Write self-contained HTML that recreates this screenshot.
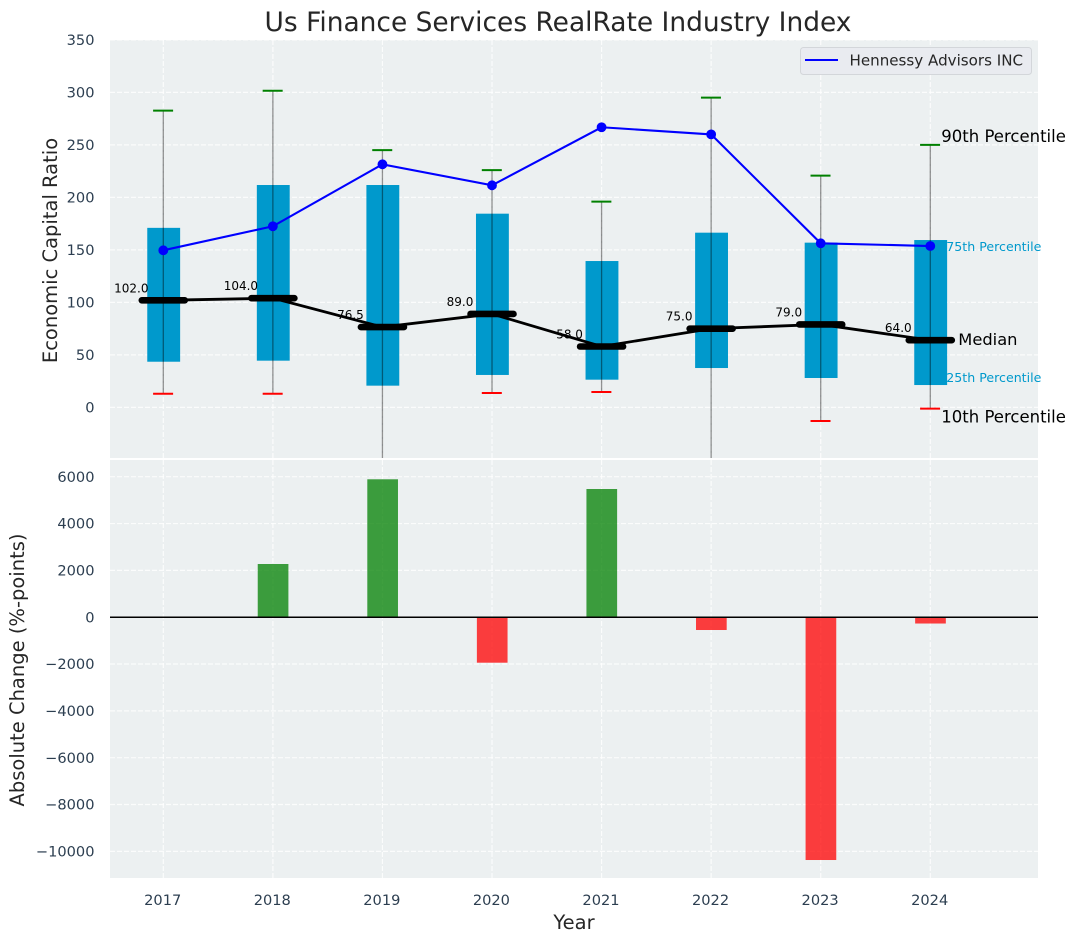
<!DOCTYPE html>
<html lang="en">
<head>
<meta charset="utf-8">
<title>Us Finance Services RealRate Industry Index</title>
<style>
  html, body { margin: 0; padding: 0; background: #ffffff; }
  #chart { display: block; width: 1076px; height: 942px; font-family: "DejaVu Sans", "Liberation Sans", sans-serif; }
</style>
</head>
<body>
<svg id="chart" xmlns="http://www.w3.org/2000/svg" width="1076" height="942" viewBox="0 0 1076 942">
  <defs>
    <clipPath id="top-clip"><rect x="110" y="40" width="928" height="418"></rect></clipPath>
    <clipPath id="bottom-clip"><rect x="110" y="460" width="928" height="418"></rect></clipPath>
  </defs>
  <rect x="0" y="0" width="1076" height="942" fill="#ffffff"></rect>
  <rect x="110" y="40" width="928" height="418" fill="#ecf0f1"></rect>
  <rect x="110" y="460" width="928" height="418" fill="#ecf0f1"></rect>
  <g id="top-grid"></g>
  <g id="bottom-grid"></g>
  <g id="top-marks" clip-path="url(#top-clip)"></g>
  <g id="bottom-marks" clip-path="url(#bottom-clip)"></g>
  <g id="axis-labels"></g>
  <g id="annotations"></g>

  <text x="558" y="31" text-anchor="middle" font-size="26.45px" fill="#262626">Us Finance Services RealRate Industry Index</text>
  <text transform="translate(57 250.5) rotate(-90)" text-anchor="middle" font-size="19.5px" fill="#262626">Economic Capital Ratio</text>
  <text transform="translate(24 670) rotate(-90)" text-anchor="middle" font-size="19.5px" fill="#262626">Absolute Change (%-points)</text>
  <text x="574" y="929" text-anchor="middle" font-size="19.5px" fill="#262626">Year</text>

  <g>
    <rect x="800.5" y="47.5" width="231" height="27" rx="3" ry="3" fill="#e9ebf0" stroke="#d3d6da" stroke-width="1"></rect>
    <line x1="805" y1="60" x2="838" y2="60" stroke="#0000ff" stroke-width="2"></line>
    <text x="849.5" y="65.5" font-size="15.1px" fill="#262626">Hennessy Advisors INC</text>
  </g>

  <script>
    // Chart data
    var years = [2017, 2018, 2019, 2020, 2021, 2022, 2023, 2024];
    var p90 = [282.6, 301.6, 245, 226, 196, 295, 220.7, 250];
    var p75 = [171, 211.8, 211.8, 184.5, 139.4, 166.4, 156.9, 159.4];
    var medians = [102, 104, 76.5, 89, 58, 75, 79, 64];
    var p25 = [43.5, 44.5, 20.7, 30.9, 26.4, 37.5, 28, 21.3];
    var p10 = [13, 13, -60, 13.7, 14.7, -60, -13, -1.2];
    var company = [149.6, 172.5, 231.5, 211.5, 266.8, 260, 156.3, 153.7];
    var absoluteChange = [0, 2272, 5890, -1943, 5475, -547, -10370, -270];
    var topTicks = [0, 50, 100, 150, 200, 250, 300, 350];
    var bottomTicks = [-10000, -8000, -6000, -4000, -2000, 0, 2000, 4000, 6000];

    var SVG_NS = 'http://www.w3.org/2000/svg';

    function xScale(year) { return 163.3 + (year - 2017) * 109.57; }
    function yTop(value) { return 407.4 - value * 1.05; }
    function yBottom(value) { return 617.2 - value * 0.023415; }

    function make(parentId, tag, attrs, text) {
      var el = document.createElementNS(SVG_NS, tag);
      Object.keys(attrs).forEach(function (k) { el.setAttribute(k, attrs[k]); });
      if (text !== undefined) { el.textContent = text; }
      document.getElementById(parentId).appendChild(el);
      return el;
    }

    function minusLabel(v) { return String(v).replace('-', '\u2212'); }

    var gridStyle = { stroke: '#ffffff', 'stroke-width': 1.2, 'stroke-dasharray': '5 2', 'stroke-opacity': 0.8 };
    function gridAttrs(x1, y1, x2, y2) {
      return { x1: x1, y1: y1, x2: x2, y2: y2, stroke: gridStyle.stroke, 'stroke-width': gridStyle['stroke-width'], 'stroke-dasharray': gridStyle['stroke-dasharray'], 'stroke-opacity': gridStyle['stroke-opacity'] };
    }

    topTicks.forEach(function (t) {
      var g = make('top-grid', 'line', gridAttrs(110, yTop(t), 1038, yTop(t)));
      
      
      var l = make('axis-labels', 'text', { x: 94.5, y: yTop(t) + 5.2, 'text-anchor': 'end', 'font-size': '14.6px', fill: '#2c3e50' }, minusLabel(t));
      
      
    });

    bottomTicks.forEach(function (t) {
      var g = make('bottom-grid', 'line', gridAttrs(110, yBottom(t), 1038, yBottom(t)));
      
      
      var l = make('axis-labels', 'text', { x: 94.5, y: yBottom(t) + 5.2, 'text-anchor': 'end', 'font-size': '14.6px', fill: '#2c3e50' }, minusLabel(t));
      
      
    });

    years.forEach(function (year) {
      var x = xScale(year);
      var g1 = make('top-grid', 'line', gridAttrs(x, 40, x, 458));
      
      
      var g2 = make('bottom-grid', 'line', gridAttrs(x, 460, x, 878));
      
      
      var l = make('axis-labels', 'text', { x: x - 0.6, y: 905, 'text-anchor': 'middle', 'font-size': '14.6px', fill: '#2c3e50' }, String(year));
      
      
    });

    // Interquartile boxes
    years.forEach(function (year, i) {
      var w = 0.3 * 109.57;
      var box = make('top-marks', 'rect', { x: xScale(year) - w / 2 + 0.4, y: yTop(p75[i]), width: w, height: yTop(p25[i]) - yTop(p75[i]), fill: '#0099cc' });
      
      
    });

    // Whiskers and caps
    years.forEach(function (year, i) {
      var x = xScale(year);
      var whisker = make('top-marks', 'line', { x1: x, y1: yTop(p90[i]), x2: x, y2: yTop(p10[i]), stroke: '#000000', 'stroke-opacity': 0.42, 'stroke-width': 1.3 });
      
      
      var capHigh = make('top-marks', 'line', { x1: x - 10.2, y1: yTop(p90[i]), x2: x + 9.8, y2: yTop(p90[i]), stroke: '#008000', 'stroke-width': 2 });
      
      
      var capLow = make('top-marks', 'line', { x1: x - 10.2, y1: yTop(p10[i]), x2: x + 9.8, y2: yTop(p10[i]), stroke: '#ff0000', 'stroke-width': 2 });
      
      
    });

    // Median value labels (under the median line)
    years.forEach(function (year, i) {
      var label = make('top-marks', 'text', { x: xScale(year) - 32, y: yTop(medians[i]) - 8, 'text-anchor': 'middle', 'font-size': '12px', fill: '#000000' }, medians[i].toFixed(1));
      
      
    });

    // Median connecting line
    var medianPath = years.map(function (year, i) { return xScale(year) + ',' + yTop(medians[i]); }).join(' ');
    var medianLine = make('top-marks', 'polyline', { points: medianPath, fill: 'none', stroke: '#000000', 'stroke-width': 2.8 });
    
    

    years.forEach(function (year, i) {
      var x = xScale(year);
      var bar = make('top-marks', 'line', { x1: x - 21.5, y1: yTop(medians[i]), x2: x + 21.5, y2: yTop(medians[i]), stroke: '#000000', 'stroke-width': 6.6, 'stroke-linecap': 'round' });
      
      
    });

    // Company series
    var companyPath = years.map(function (year, i) { return xScale(year) + ',' + yTop(company[i]); }).join(' ');
    var companyLine = make('top-marks', 'polyline', { points: companyPath, fill: 'none', stroke: '#0000ff', 'stroke-width': 2.1 });
    
    

    years.forEach(function (year, i) {
      var dot = make('top-marks', 'circle', { cx: xScale(year), cy: yTop(company[i]), r: 4.9, fill: '#0000ff' });
      
      
    });

    // Absolute change bars
    years.forEach(function (year, i) {
      var v = absoluteChange[i];
      if (v === 0) { return; }
      var w = 0.28 * 109.57;
      var top = Math.min(yBottom(v), yBottom(0));
      var h = Math.abs(yBottom(v) - yBottom(0));
      var bar = make('bottom-marks', 'rect', { x: xScale(year) - w / 2 + 0.2, y: top, width: w, height: h, fill: v > 0 ? '#008000' : '#ff0000', 'fill-opacity': 0.75 });
      
      
    });

    var zero = make('bottom-marks', 'line', { x1: 110, y1: yBottom(0), x2: 1038, y2: yBottom(0), stroke: '#000000', 'stroke-width': 1.5 });
    
    

    // Percentile annotations anchored to the final year
    var last = years.length - 1;
    var lastX = xScale(years[last]);

    var a90 = make('annotations', 'text', { x: lastX + 11, y: yTop(p90[last]) - 3, 'font-size': '16.5px', fill: '#000000' }, '90th Percentile');
    
    

    var a75 = make('annotations', 'text', { x: lastX + 16, y: yTop(p75[last]) + 11, 'font-size': '12.6px', fill: '#0099cc' }, '75th Percentile');
    
    

    var aMed = make('annotations', 'text', { x: lastX + 28, y: yTop(medians[last]) + 4.7, 'font-size': '16.3px', fill: '#000000' }, 'Median');
    
    

    var a25 = make('annotations', 'text', { x: lastX + 16, y: yTop(p25[last]) - 3, 'font-size': '12.6px', fill: '#0099cc' }, '25th Percentile');
    
    

    var a10 = make('annotations', 'text', { x: lastX + 11, y: yTop(p10[last]) + 14, 'font-size': '16.5px', fill: '#000000' }, '10th Percentile');
    
    
  </script>
</svg>
</body>
</html>
